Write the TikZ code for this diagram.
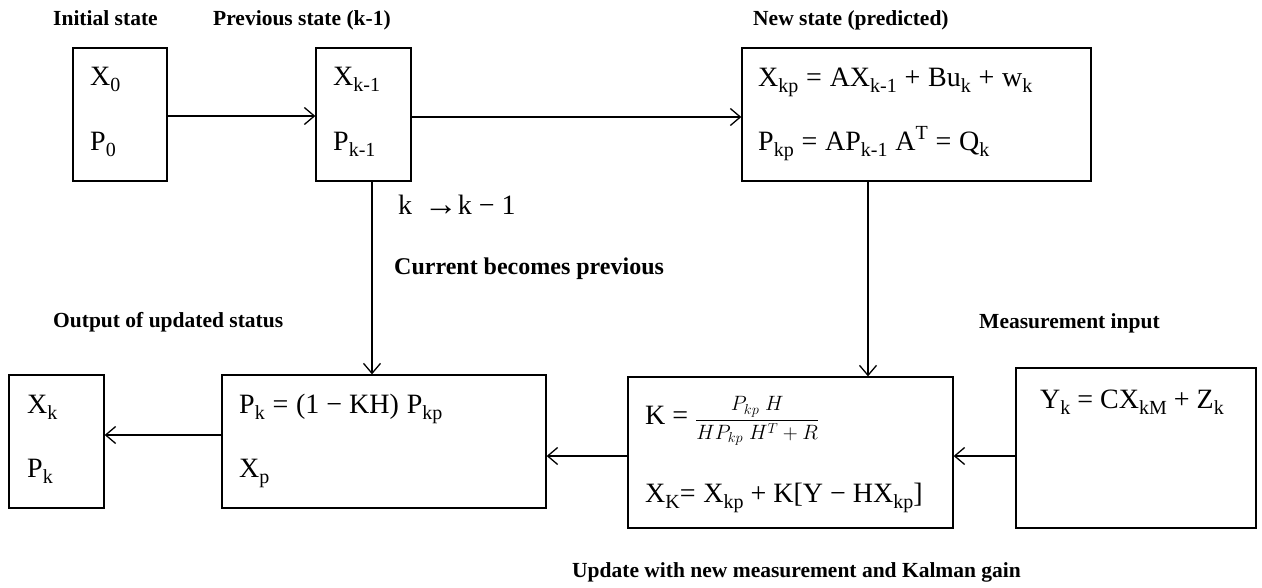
\documentclass[tikz,border=0pt]{standalone}
\usepackage{fontspec}
\setmainfont{Liberation Serif}
\usetikzlibrary{arrows.meta}
\newcommand\lo[1]{\raisebox{-0.22em}{\fontsize{20}{20}\selectfont #1}}
\newcommand\hi[1]{\raisebox{0.38em}{\fontsize{20}{20}\selectfont #1}}
\begin{document}
\begin{tikzpicture}[x=1pt,y=-1pt,
  box/.style={draw, line width=1.3pt, inner sep=0pt},
  lbl/.style={font=\fontsize{21.5}{24}\selectfont\bfseries, inner sep=0pt, anchor=base west},
  eq/.style={font=\fontsize{28}{30}\selectfont, inner sep=0pt, anchor=base west},
  arr/.style={-{Straight Barb[length=10pt,width=17pt,line width=1.3pt]}, line width=1.3pt}]
\fill[white] (0,0) rectangle (1262,587);
\useasboundingbox (0,0) rectangle (1262,587);
% boxes
\node[box, minimum width=94pt, minimum height=133pt] (init) at (120,114.5) {};
\node[box, minimum width=95pt, minimum height=133pt] (prev) at (363.5,114.5) {};
\node[box, minimum width=349pt, minimum height=133pt] (new) at (916.5,114.5) {};
\node[box, minimum width=95pt, minimum height=133pt] (out) at (56.5,441.5) {};
\node[box, minimum width=324pt, minimum height=133pt] (upd) at (384,441.5) {};
\node[box, minimum width=325pt, minimum height=151pt] (kal) at (790.5,452.5) {};
\node[box, minimum width=240pt, minimum height=160pt] (meas) at (1136,448) {};
% labels
\node[lbl] (l1) at (53,25) {Initial state};
\node[lbl] (l2) at (213,25) {Previous state (k-1)};
\node[lbl] (l3) at (753,25) {New state (predicted)};
\node[lbl, font=\fontsize{24}{28}\selectfont\bfseries] (l4) at (394,274) {Current becomes previous};
\node[lbl] (l5) at (53,327) {Output of updated status};
\node[lbl] (l6) at (979,328) {Measurement input};
\node[lbl] (l7) at (572,577) {Update with new measurement and Kalman gain};
% equations
\node[eq] (x0) at (90,85) {X\lo{0}};
\node[eq] (p0) at (90,150) {P\lo{0}};
\node[eq] (xk1) at (333,85) {X\lo{k-1}};
\node[eq] (pk1) at (333,150) {P\lo{k-1}};
\node[eq] (xkp) at (758,86) {X\lo{kp}\;=\;AX\lo{k-1}\;+\;Bu\lo{k}\;+\;w\lo{k}};
\node[eq] (pkp) at (758,150) {P\lo{kp}\;=\;AP\lo{k-1}\;A\hi{T}\;=\;Q\lo{k}};
\node[eq] (kk) at (398,214) {k \,\raisebox{-1pt}{\fontsize{34}{34}\selectfont →}k − 1};
\node[eq] (xo) at (27,413) {X\lo{k}};
\node[eq] (po) at (27,477) {P\lo{k}};
\node[eq] (pu) at (239,413) {P\lo{k}\;=\;(1 − KH)\;P\lo{kp}};
\node[eq] (xp) at (239,477) {X\lo{p}};
\node[eq] (kg) at (645,424) {K = \raisebox{-1pt}{\fontsize{20}{20}\selectfont$\displaystyle\frac{P_{kp}\;H}{HP_{kp}\;H^{T}+R}$}};
\node[eq] (xK) at (645,502) {X\lo{K}=\;X\lo{kp} + K[Y − HX\lo{kp}]};
\node[eq] (yk) at (1040,408) {Y\lo{k} = CX\lo{kM} + Z\lo{k}};
% connectors
\draw[arr] (init.east |- 0,116) -- (prev.west |- 0,116);
\draw[arr] (prev.east |- 0,117) -- (new.west |- 0,117);
\draw[arr] (prev.south -| 372,0) -- (upd.north -| 372,0);
\draw[arr] (new.south -| 868,0) -- (kal.north -| 868,0);
\draw[arr] (upd.west |- 0,435) -- (out.east |- 0,435);
\draw[arr] (kal.west |- 0,456) -- (upd.east |- 0,456);
\draw[arr] (meas.west |- 0,456) -- (kal.east |- 0,456);
\end{tikzpicture}
\end{document}
